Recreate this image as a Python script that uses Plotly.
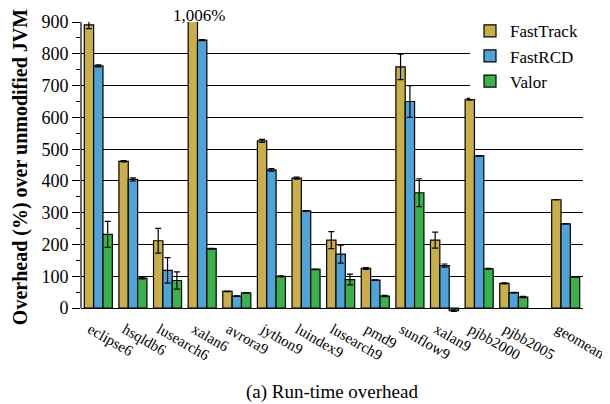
import plotly.graph_objects as go
import numpy as np

benchmarks = ["eclipse6", "hsqldb6", "lusearch6", "xalan6", "avrora9", "jython9",
              "luindex9", "lusearch9", "pmd9", "sunflow9", "xalan9", "pjbb2000",
              "pjbb2005", "geomean"]
x_pos = [0, 1, 2, 3, 4, 5, 6, 7, 8, 9, 10, 11, 12, 13.5]

fasttrack = [891, 462, 212, 1006, 53, 526, 409, 214, 125, 759, 214, 657, 78, 341]
fastrcd = [762, 405, 119, 843, 38, 435, 306, 170, 88, 650, 134, 479, 49, 265]
valor = [232, 94, 87, 187, 48, 100, 122, 90, 38, 363, -8, 124, 35, 98]

ft_err = [12, 2, 39, None, 1, 5, 3, 27, 3, 40, 25, 3, 2, None]
rcd_err = [3, 5, 40, 2, 1, 4, 1, 28, 1, 50, 5, 1, 1, None]
valor_err = [41, 2, 27, 1, 1, 2, 1, 17, 2, 44, 3, 1, 2, None]

series_names = ["FastTrack", "FastRCD", "Valor"]
colors = ["#C9AE4A", "#4DA3DA", "#3AB24B"]

y_ticks = [0, 100, 200, 300, 400, 500, 600, 700, 800, 900]
y_minor = [50, 150, 250, 350, 450, 550, 650, 750, 850]
FONT = "Liberation Serif"

fig = go.Figure()
for name, vals, errs, col in zip(series_names, [fasttrack, fastrcd, valor],
                                  [ft_err, rcd_err, valor_err], colors):
    e = [np.nan if v is None else v for v in errs]
    fig.add_trace(go.Bar(
        name=name, x=x_pos, y=vals,
        marker=dict(color=col, line=dict(color="black", width=1.2)),
        error_y=dict(type="data", array=e, visible=True, color="black",
                     thickness=1.2, width=3),
    ))

fig.add_annotation(x=x_pos[3], y=900, yref="y", text="1,006%", showarrow=False,
                   yanchor="bottom", yshift=-5, xshift=-3,
                   font=dict(family=FONT, size=17, color="black"))

fig.add_annotation(x=0.5, xref="paper", y=-0.232, yref="paper",
                   text="(a) Run-time overhead", showarrow=False,
                   xanchor="center", yanchor="top",
                   font=dict(family=FONT, size=19, color="black"))

# left axis line from 0 to 900
fig.add_shape(type="line", xref="paper", yref="y", x0=0, x1=0, y0=0, y1=900,
              line=dict(color="black", width=1.2))

fig.update_layout(
    width=610, height=404,
    margin=dict(l=73, r=35, t=14, b=100, autoexpand=False),
    paper_bgcolor="white", plot_bgcolor="white",
    barmode="group", bargap=0.19, bargroupgap=0,
    font=dict(family=FONT, size=17, color="black"),
    showlegend=True,
    legend=dict(x=1, y=1.03, xanchor="right", yanchor="top",
                bgcolor="white", borderwidth=0,
                font=dict(family=FONT, size=17, color="black"),
                itemwidth=30, tracegroupgap=0),
    xaxis=dict(
        range=[-0.5, 14.0], tickmode="array", tickvals=x_pos, ticktext=benchmarks,
        tickangle=30, showgrid=False, showline=False, zeroline=False,
        ticks="", tickfont=dict(family=FONT, size=15),
        automargin=False, ticklabeloverflow="allow", ticklabelshift=-8,
        ticklabelstandoff=5,
    ),
    yaxis=dict(
        range=[-12, 900], tickmode="array", tickvals=y_ticks, automargin=False,
        showgrid=True, gridcolor="black", gridwidth=1.2,
        zeroline=True, zerolinecolor="black", zerolinewidth=1.2,
        showline=False, ticks="outside", ticklen=8, tickcolor="black", tickwidth=1.2,
        minor=dict(tickvals=y_minor, ticks="outside", ticklen=4, tickcolor="black",
                   tickwidth=1.2, showgrid=False),
        tickfont=dict(family=FONT, size=18),
        title=dict(text="Overhead (%) over unmodified JVM",
                   font=dict(family=FONT, size=20, weight="bold"), standoff=8),
    ),
)

fig.write_html("out.html")
